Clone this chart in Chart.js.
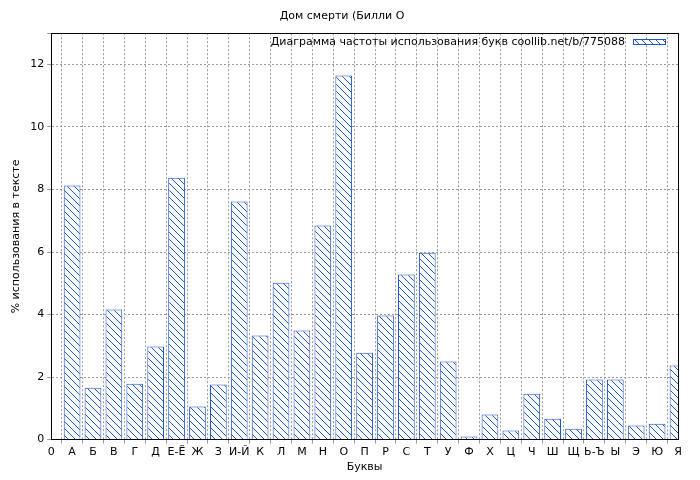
<!DOCTYPE html><html><head><meta charset="utf-8">
<script src="https://cdn.jsdelivr.net/npm/chart.js@4"></script>
<style>body{margin:0;background:#fff}#w{width:700px;height:480px}</style></head><body>
<div id="w"><canvas id="c"></canvas></div>
<script>
const categories=["0","А","Б","В","Г","Д","Е-Ё","Ж","З","И-Й","К","Л","М","Н","О","П","Р","С","Т","У","Ф","Х","Ц","Ч","Ш","Щ","Ь-Ъ","Ы","Э","Ю","Я"];
const values=[null,8.13,1.66,4.16,1.79,2.98,8.38,1.06,1.76,7.62,3.33,5.02,3.49,6.85,11.65,2.78,3.97,5.28,5.98,2.50,0.10,0.80,0.29,1.47,0.67,0.35,1.92,1.92,0.45,0.51,2.37];
const seriesName="Диаграмма частоты использования букв coollib.net/b/775088";
const titleText="Дом смерти (Билли О";
const BLUE="#1f56c8";
function hatch(){const s=7,p=document.createElement('canvas');p.width=s;p.height=s;const g=p.getContext('2d');g.fillStyle='#fff';g.fillRect(0,0,s,s);g.strokeStyle=BLUE;g.lineWidth=1;g.beginPath();g.moveTo(0,0);g.lineTo(s,s);g.moveTo(-s,0);g.lineTo(s,2*s);g.moveTo(0,-s);g.lineTo(2*s,s);g.stroke();return g.createPattern(p,'repeat');}
const pat=hatch();
Chart.defaults.font.family="DejaVu Sans";Chart.defaults.font.size=11;Chart.defaults.color="#000";
const legendPlug={id:'lg',afterDraw(ch){const c=ch.ctx,a=ch.chartArea;c.save();c.strokeStyle='#000';c.lineWidth=1;c.strokeRect(Math.round(a.left)+.5,Math.round(a.top)+.5,Math.round(a.right-a.left),Math.round(a.bottom-a.top));c.font="11px DejaVu Sans";c.fillStyle="#000";c.textAlign="right";c.textBaseline="middle";const bx=a.right-45,by=38;c.fillText(seriesName,bx-8,by+4);c.fillStyle=pat;c.fillRect(bx,by+1,32,6);c.strokeStyle=BLUE;c.strokeRect(bx+.5,by+1.5,32,5);c.restore();}};
new Chart(document.getElementById('c'),{type:'bar',data:{labels:categories,datasets:[{data:values,backgroundColor:pat,borderColor:BLUE,borderWidth:1,barPercentage:0.8,categoryPercentage:1}]},
options:{responsive:true,maintainAspectRatio:false,animation:false,layout:{padding:{left:6,right:22,top:0,bottom:2}},
plugins:{legend:{display:false},tooltip:{enabled:false},title:{display:true,text:titleText,font:{size:11,weight:'normal'},padding:{top:10,bottom:10}}},
scales:{x:{offset:false,grid:{color:'#999',tickLength:4},border:{color:'#000',dash:[2,2]},ticks:{maxRotation:0,autoSkip:false,padding:2},title:{display:true,text:'Буквы',padding:{top:0}}},
y:{min:0,max:13,grid:{color:'#999',tickLength:4},border:{color:'#000',dash:[2,2]},ticks:{stepSize:2,callback:v=>v%2===0?v:''},title:{display:true,text:'% использования в тексте'}}}},plugins:[legendPlug]});
</script></body></html>
